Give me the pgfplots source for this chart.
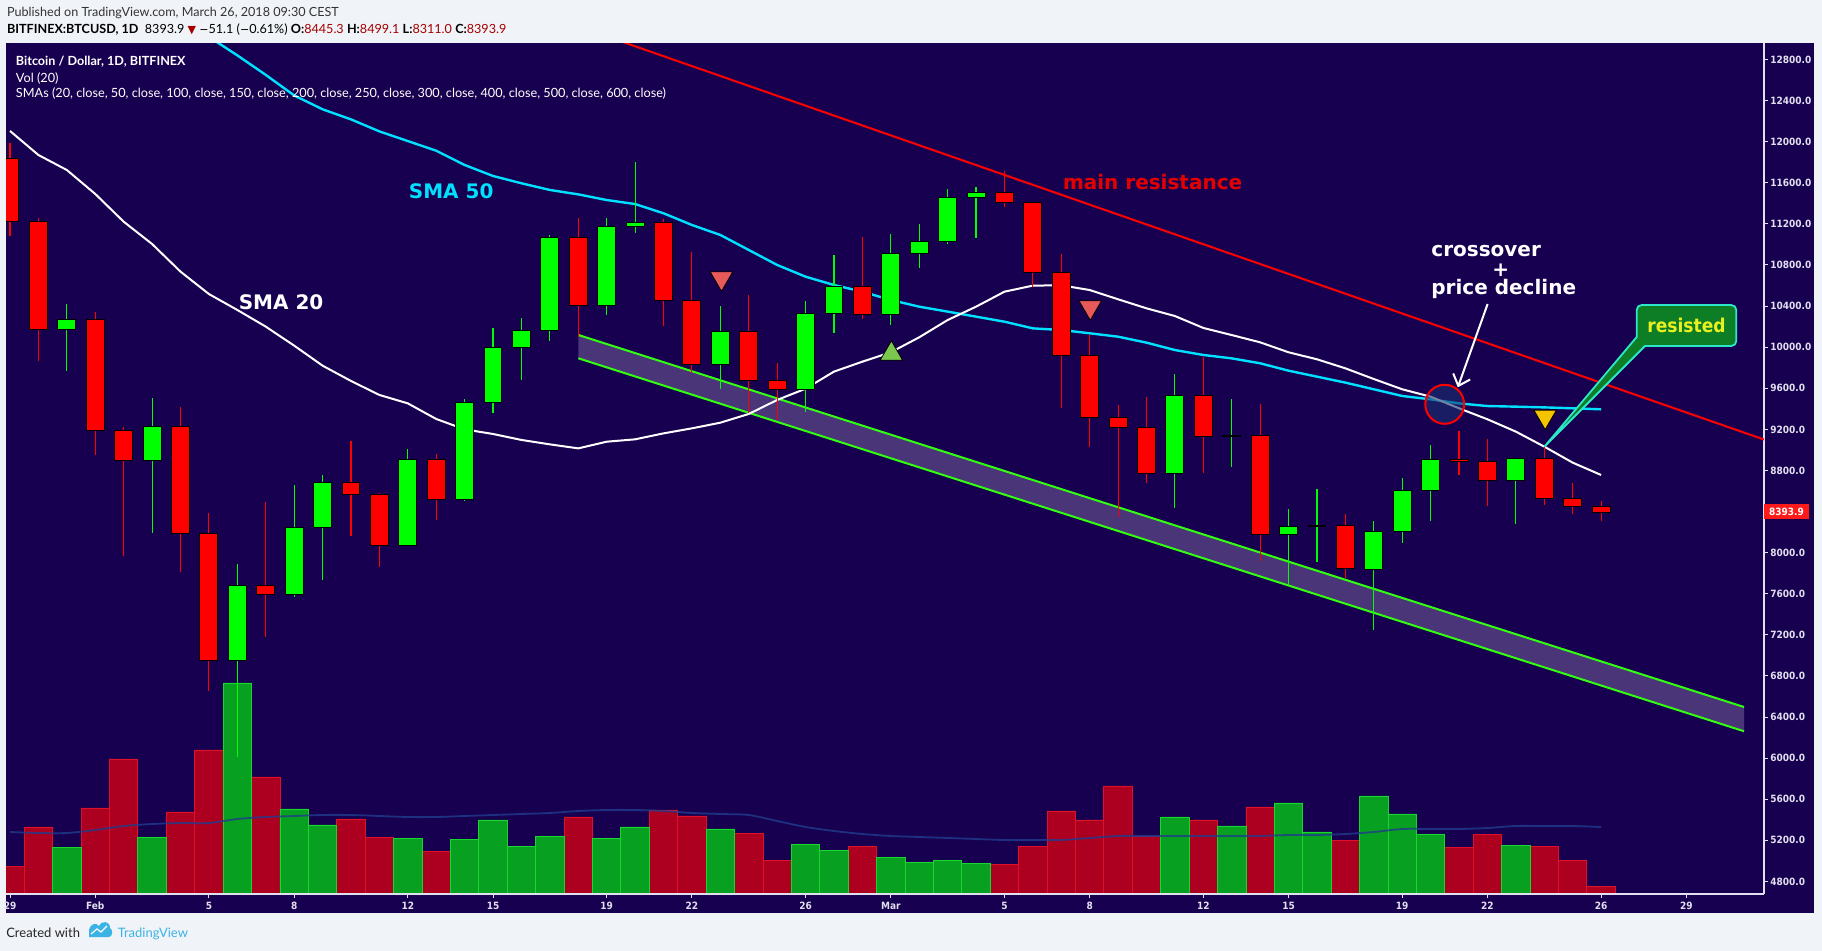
\documentclass[border=0pt]{standalone}
\usepackage{pgfplots}
\pgfplotsset{compat=1.18}
\usepackage{pgfplotstable}
\usetikzlibrary{arrows.meta}
\usepackage{fontspec}
\setmainfont{Lato}
\newfontfamily\dv{DejaVu Sans}
\newfontfamily\dvc{DejaVu Sans Condensed}

\definecolor{bgout}{HTML}{F0F3F7}
\definecolor{panel}{HTML}{180050}
\definecolor{cred}{HTML}{FF0000}
\definecolor{cgreen}{HTML}{00FF00}
\definecolor{vred}{HTML}{AD0020}
\definecolor{vredl}{HTML}{E0102A}
\definecolor{vgreen}{HTML}{08A020}
\definecolor{vgreenl}{HTML}{18D830}
\definecolor{smacyan}{HTML}{00E0FF}
\definecolor{chgreen}{HTML}{33FF11}
\definecolor{chfill}{HTML}{4A3578}
\definecolor{volma}{HTML}{203C8C}
\definecolor{axtext}{HTML}{E0E0EE}
\definecolor{hdrred}{HTML}{A50000}
\definecolor{tvblue}{HTML}{3BB3E4}
\definecolor{trired}{HTML}{E85A5A}
\definecolor{trigreen}{HTML}{7CC84E}
\definecolor{triyellow}{HTML}{F5C400}
\definecolor{ellblue}{HTML}{1A3170}
\definecolor{callgreen}{HTML}{0E7E26}
\definecolor{callborder}{HTML}{2EE6C8}
\definecolor{resyellow}{HTML}{E8F020}
\definecolor{labred}{HTML}{FF1A1A}

% day 0 = 1 Feb 2018
\pgfplotstableread{
d o h l c
-3 11838 11990 11082 11221
-2 11221 11254 9865 10174
-1 10174 10420 9771 10268
0 10268 10342 8951 9191
1 9191 9220 7971 8899
2 8899 9502 8195 9226
3 9226 9418 7815 8188
4 8188 8383 6657 6955
5 6955 7890 6008 7679
6 7679 8496 7182 7594
7 7594 8659 7572 8247
8 8247 8756 7734 8685
9 8685 9087 8165 8568
10 8568 8584 7864 8071
11 8071 9009 8060 8908
12 8908 8960 8318 8519
13 8519 9496 8505 9463
14 9463 10187 9356 9995
15 9995 10284 9684 10164
16 10164 11092 10063 11069
17 11069 11260 10100 10407
18 10407 11260 10313 11173
19 11179 11805 11114 11212
20 11212 11247 10209 10456
21 10456 10926 9752 9836
22 9836 10400 9596 10151
23 10151 10508 9356 9671
24 9671 9846 9291 9590
25 9590 10449 9372 10326
26 10326 10897 10141 10589
27 10589 11072 10274 10320
28 10320 11101 10216 10910
29 10910 11199 10774 11027
30 11027 11539 11000 11455
31 11458 11559 11066 11504
32 11504 11714 11367 11410
33 11410 11416 10582 10728
34 10728 10907 9411 9920
35 9920 10115 9032 9311
36 9311 9437 8350 9220
37 9220 9515 8681 8772
38 8772 9739 8438 9528
39 9528 9901 8779 9132
40 9130 9496 8834 9138
41 9138 9447 7919 8178
42 8178 8425 7685 8256
43 8256 8616 7912 8265
44 8262 8380 7750 7848
45 7838 8305 7247 8204
46 8204 8727 8097 8607
47 8607 9048 8312 8905
48 8908 9184 8756 8889
49 8889 9106 8454 8707
50 8707 8925 8279 8915
51 8915 9032 8464 8529
52 8529 8678 8376 8451
53 8445.3 8499.1 8311.0 8393.9
}\candles

\pgfplotsset{chartgeom/.style={at={(3pt,-447pt)}, anchor=south west,
  scale only axis, width=879pt, height=425.35pt, xmin=-3.1425, xmax=58.734}}

\begin{document}
\begin{tikzpicture}
\path[use as bounding box] (0pt,0pt) rectangle (911pt,-475.5pt);
\fill[bgout] (0pt,0pt) rectangle (911pt,-475.5pt);
\begin{scope}[x=0.5pt,y=-0.5pt]
  \fill[panel] (6,43.3) rectangle (1814,913.3);
  \node[anchor=base west, inner sep=0pt, text=black!80, font=\fontsize{6.3}{7.5}\selectfont] at (6.7,16.7)
    {Published on TradingView.com, March 26, 2018 09:30 CEST};
  \node[anchor=base west, inner sep=0pt, text=black, font=\fontsize{6.3}{7.5}\selectfont] at (6.7,33.3)
    {\textbf{BITFINEX:BTCUSD, 1D}\ \ 8393.9 {\dv\color{hdrred}\fontsize{5.5}{6.5}\selectfont ▼} {\dv\fontsize{5.5}{6.5}\selectfont−}51.1 ({\dv\fontsize{5.5}{6.5}\selectfont−}0.61\%) \textbf{O:}\textcolor{hdrred}{8445.3} \textbf{H:}\textcolor{hdrred}{8499.1} \textbf{L:}\textcolor{hdrred}{8311.0} \textbf{C:}\textcolor{hdrred}{8393.9}};
  % footer
  \node[anchor=base west, inner sep=0pt, text=black!85, font=\fontsize{6.5}{7.5}\selectfont] at (5.9,937.7) {Created with};
  \fill[tvblue] (89,937) -- (89,930) .. controls (90,924) and (96,922) .. (99,926) .. controls (102,920) and (110,921) .. (110,928) .. controls (113,929) and (113,937) .. (109,937) -- cycle;
  \draw[white, line width=0.6pt] (91,934) -- (97,929) -- (101,932) -- (107,926);
  \node[anchor=base west, inner sep=0pt, text=tvblue, font=\fontsize{6.5}{7.5}\selectfont] at (117.4,937.7) {TradingView};
\end{scope}

% ---------------- volume ----------------
\begin{axis}[chartgeom, hide axis, ymin=0, ymax=850.7]
\addplot[ybar, bar width=1, bar shift=0pt, fill=vred, draw=vredl, line width=0.45pt] coordinates {
(-3,28) (-2,67) (0,86) (1,135) (3,82) (4,144) (6,117) (9,75) (10,57) (12,43) (17,77) (20,84) (21,78) (23,61) (24,34) (27,48) (32,30) (33,48) (34,83) (35,74) (36,108) (37,58) (39,74) (41,87) (44,54) (48,47) (49,60) (51,48) (52,34) (53,8)};
\addplot[ybar, bar width=1, bar shift=0pt, fill=vgreen, draw=vgreenl, line width=0.45pt] coordinates {
(-1,47) (2,57) (5,211) (7,85) (8,69) (11,56) (13,55) (14,74) (15,48) (16,58) (18,56) (19,67) (22,65) (25,50) (26,44) (28,37) (29,32) (30,34) (31,31) (38,77) (40,68) (42,91) (43,62) (45,98) (46,80) (47,60) (50,49)};
\addplot[volma, line width=0.9pt, smooth, opacity=0.8] coordinates {
(-3,62) (-2,61) (-1,61) (0,64) (1,68) (2,70) (3,71) (4,71) (5,75) (6,77) (7,78) (8,79) (9,79) (10,78) (11,77) (12,77) (13,78) (14,79) (15,80) (16,81) (17,83) (18,84) (19,84) (20,83) (21,81) (22,80) (23,79) (24,73) (25,67) (26,63) (27,60) (28,58) (29,57) (30,56) (31,55) (32,54) (33,54) (34,54) (35,56) (36,58) (37,58) (38,58) (39,58) (40,58) (41,58) (42,59) (43,59) (44,60) (45,62) (46,65) (47,65) (48,65) (49,66) (50,68) (51,68) (52,68) (53,67)};
\end{axis}

% ---------------- price ----------------
\begin{axis}[chartgeom, ymin=4677.9, ymax=12957.4,
  axis x line*=bottom, axis y line*=right,
  axis line style={draw=axtext, line width=0.6pt},
  tick align=outside, major tick length=2pt,
  tick style={draw=axtext, line width=0.5pt},
  xtick={-3,0,4,7,11,14,18,21,25,28,32,35,39,42,46,49,53,56},
  xticklabels={29,Feb,5,8,12,15,19,22,26,Mar,5,8,12,15,19,22,26,29},
  xticklabel style={font=\dvc\bfseries\fontsize{5}{6}\selectfont, text=axtext, anchor=north, inner sep=0pt, yshift=-2pt},
  ytick={4800,5200,5600,6000,6400,6800,7200,7600,8000,8800,9200,9600,10000,10400,10800,11200,11600,12000,12400,12800},
  scaled y ticks=false,
  yticklabel style={font=\dvc\bfseries\fontsize{5}{6}\selectfont, text=axtext, anchor=west, inner sep=0pt, xshift=1pt,
    /pgf/number format/.cd, fixed, fixed zerofill, precision=1, 1000 sep={}, assume math mode=true},
]
% channel
\addplot[fill=chfill, draw=none] coordinates {(17,10119) (58.03,6498) (58.03,6262) (17,9892)} -- cycle;
\addplot[chgreen, line width=1pt] coordinates {(17,10119) (58.03,6498)};
\addplot[chgreen, line width=1pt] coordinates {(17,9892) (58.03,6262)};
% main resistance
\addplot[cred, line width=1pt] coordinates {(17,13121) (58.734,9101)};
% SMA 50
\addplot[smacyan, line width=1.2pt] coordinates {
(3,13200) (4,13020) (5,12840) (6,12650) (7,12450) (8,12315) (9,12217) (10,12100) (11,12006) (12,11912) (13,11773) (14,11666) (15,11595) (16,11530) (17,11487) (18,11432) (19,11393) (20,11303) (21,11189) (22,11092) (23,10946) (24,10800) (25,10686) (26,10605) (27,10540) (28,10459) (29,10394) (30,10346) (31,10297) (32,10248) (33,10183) (34,10167) (35,10135) (36,10102) (37,10044) (38,9972) (39,9924) (40,9891) (41,9843) (42,9771) (43,9713) (44,9655) (45,9590) (46,9525) (47,9492) (48,9453) (49,9427) (50,9421) (51,9414) (52,9405) (53,9395)};
% SMA 20
\addplot[white, line width=1pt] coordinates {
(-3,12104) (-2,11870) (-1,11724) (0,11491) (1,11221) (2,11004) (3,10735) (4,10517) (5,10362) (6,10200) (7,10015) (8,9820) (9,9671) (10,9535) (11,9453) (12,9301) (13,9200) (14,9155) (15,9097) (16,9054) (17,9015) (18,9080) (19,9103) (20,9161) (21,9210) (22,9265) (23,9350) (24,9486) (25,9596) (26,9762) (27,9859) (28,9950) (29,10096) (30,10264) (31,10394) (32,10540) (33,10599) (34,10602) (35,10556) (36,10466) (37,10378) (38,10303) (39,10187) (40,10118) (41,10047) (42,9950) (43,9882) (44,9794) (45,9690) (46,9590) (47,9518) (48,9405) (49,9298) (50,9178) (51,9032) (52,8876) (53,8756)};
% signal triangles
\addplot[only marks, mark=triangle*, mark size=6.5pt, mark options={rotate=180, fill=trired, draw=none}] coordinates {(22.04,10670) (35.02,10388)};
\addplot[only marks, mark=triangle*, mark size=6.5pt, mark options={fill=trigreen, draw=none}] coordinates {(28.02,9936)};
\addplot[only marks, mark=triangle*, mark size=6.5pt, mark options={rotate=180, fill=triyellow, draw=none}] coordinates {(51.03,9324)};
% wicks
\addplot[draw=none, mark=none, error bars/.cd, y dir=plus, y explicit,
  error bar style={draw=cred, line width=0.55pt}, error mark=none]
  table[x=d, y=l, y error expr={\thisrow{h}-\thisrow{l}},
        restrict expr to domain={\thisrow{c}-\thisrow{o}}{-100000:-0.001}] {\candles};
\addplot[draw=none, mark=none, error bars/.cd, y dir=plus, y explicit,
  error bar style={draw=cgreen, line width=0.55pt}, error mark=none]
  table[x=d, y=l, y error expr={\thisrow{h}-\thisrow{l}},
        restrict expr to domain={\thisrow{c}-\thisrow{o}}{0:100000}] {\candles};
\end{axis}

% ---------------- candle bodies ----------------
\begin{axis}[chartgeom, hide axis, ymin=4677.9, ymax=12957.4, ybar stacked, bar width=0.63]
\addplot[draw=none, fill=none] table[x=d, y expr={min(\thisrow{o},\thisrow{c})}] {\candles};
\addplot[draw=black, fill=cred, line width=0.5pt] table[x=d, y expr={\thisrow{o}>\thisrow{c} ? \thisrow{o}-\thisrow{c} : 0}] {\candles};
\addplot[draw=black, fill=cgreen, line width=0.5pt] table[x=d, y expr={\thisrow{c}>=\thisrow{o} ? \thisrow{c}-\thisrow{o} : 0}] {\candles};
\end{axis}

% ---------------- annotations ----------------
\begin{scope}[x=0.5pt,y=-0.5pt]
  \fill[labred] (1764,504.5) rectangle (1809,519.5);
  \node[inner sep=0pt, text=white, font=\dvc\bfseries\fontsize{5}{6}\selectfont] at (1786.5,512) {8393.9};
  \draw[cred, line width=1pt, fill=ellblue, fill opacity=0.6] (1444.7,404.3) ellipse [x radius=19.4, y radius=19.5];
  \draw[white, line width=1pt, -{Straight Barb[length=5pt,width=9pt]}] (1487.6,304) -- (1457.8,387.3);
  \draw[callborder, line width=0.9pt, fill=callgreen] (1544.3,446.7) -- (1645,346)
     [rounded corners=2.5pt] -- (1736.3,346) -- (1736.3,305) -- (1636.7,305) [sharp corners] -- (1636.7,337) -- cycle;
  \node[anchor=base, inner sep=0pt, text=resyellow, font=\dvc\bfseries\fontsize{9.5}{11}\selectfont] at (1686.5,332.7) {resisted};
  \node[anchor=base west, inner sep=0pt, text=smacyan, font=\dv\bfseries\fontsize{10}{12}\selectfont] at (408.5,198.3) {SMA 50};
  \node[anchor=base west, inner sep=0pt, text=white, font=\dv\bfseries\fontsize{10}{12}\selectfont] at (238.4,310) {SMA 20};
  \node[anchor=base west, inner sep=0pt, text=cred!90!black, font=\dv\bfseries\fontsize{10}{12}\selectfont] at (1062.6,189.3) {main resistance};
  \node[anchor=base west, inner sep=0pt, text=white, font=\dv\bfseries\fontsize{10}{12}\selectfont] at (1431,256.7) {crossover};
  \node[inner sep=0pt, text=white, font=\dv\bfseries\fontsize{10}{12}\selectfont] at (1500.7,270) {+};
  \node[anchor=base west, inner sep=0pt, text=white, font=\dv\bfseries\fontsize{10}{12}\selectfont] at (1431,295) {price decline};
  \node[anchor=base west, inner sep=0pt, text=white, font=\bfseries\fontsize{6.3}{7.5}\selectfont] at (15.6,66) {Bitcoin / Dollar, 1D, BITFINEX};
  \node[anchor=base west, inner sep=0pt, text=white, font=\fontsize{6.35}{7.5}\selectfont] at (15.6,82.5) {Vol (20)};
  \node[anchor=base west, inner sep=0pt, text=white, font=\fontsize{6.35}{7.5}\selectfont] at (15.6,97.5) {SMAs (20, close, 50, close, 100, close, 150, close, 200, close, 250, close, 300, close, 400, close, 500, close, 600, close)};
\end{scope}
\end{tikzpicture}
\end{document}
